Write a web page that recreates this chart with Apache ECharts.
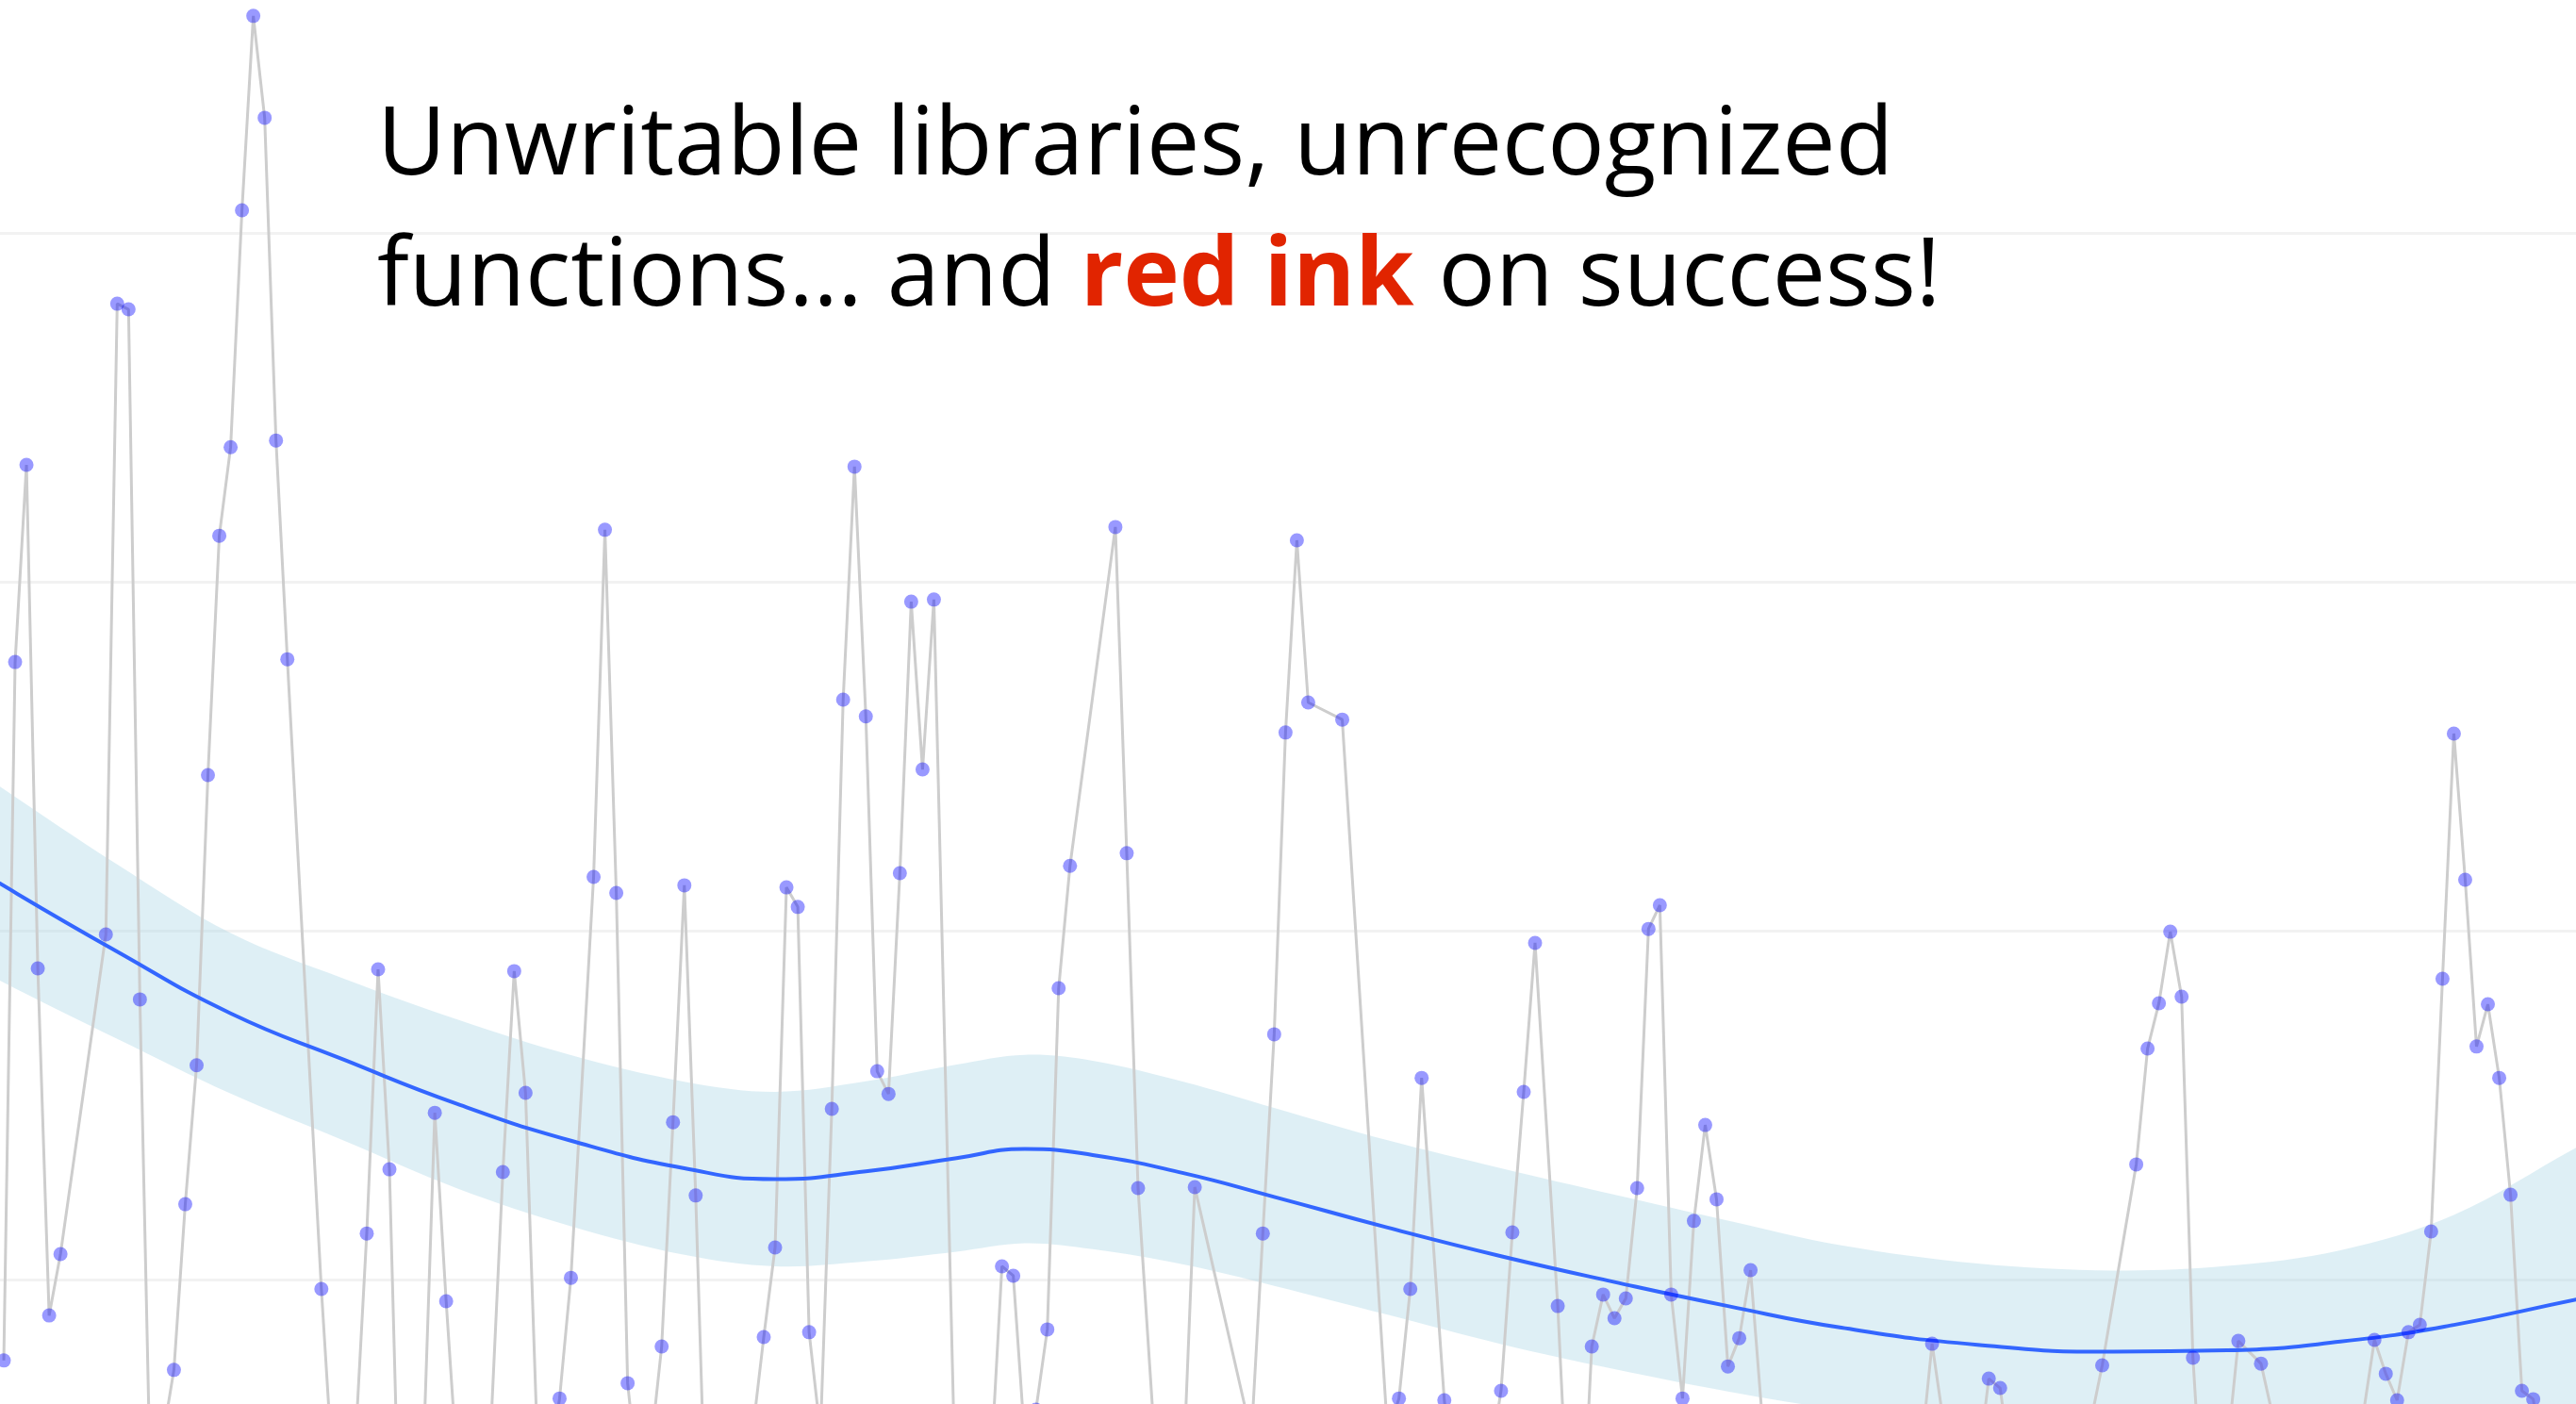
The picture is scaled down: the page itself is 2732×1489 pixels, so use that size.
<!DOCTYPE html>
<html>
<head>
<meta charset="utf-8">
<script src="https://cdn.jsdelivr.net/npm/echarts@6/dist/echarts.min.js"></script>
<style>
html,body{margin:0;padding:0;background:#ffffff;overflow:hidden;width:2732px;height:1489px;}
#wrap{position:relative;width:2732px;height:1489px;overflow:hidden;}
#chart{position:absolute;left:0;top:-123px;width:2732px;height:1850px;}
</style>
</head>
<body>
<div id="wrap"><div id="chart"></div></div>
<script>
// ---- data (x = observation index, y = value) ----
const pointIndex = [0,1,2,3,4,5,9,10,11,12,13,14,15,16,17,18,19,20,21,22,23,24,25,28,29,30,31,32,33,34,35,36,37,38,39,40,41,42,43,44,45,46,47,48,49,50,52,53,54,55,56,57,58,59,60,61,62,63,64,65,66,67,68,69,70,71,72,73,74,75,76,77,78,79,80,81,82,84,85,86,87,88,89,90,91,92,93,94,98,99,100,102,103,104,105,110,111,112,113,114,115,118,122,123,124,125,127,128,129,130,131,132,133,134,135,137,138,139,140,141,142,143,144,145,146,147,148,149,150,151,152,153,154,155,160,165,169,170,171,173,174,175,176,177,180,184,185,188,189,190,191,192,193,194,195,196,197,199,200,204,208,209,210,211,212,213,214,215,216,217,218,219,220,221,222,223,224,226];
const pointValue = [7.68,27.70,33.35,18.92,8.97,10.73,19.89,37.97,37.81,18.03,2.97,5.43,7.41,12.16,16.14,24.46,31.32,33.86,40.65,46.22,43.30,34.05,27.78,9.73,4.51,3.43,5.32,11.32,18.89,13.16,1.0,2.08,5.05,14.78,9.38,4.51,2.89,3.97,6.14,13.08,18.84,15.35,5.73,4.51,6.59,10.05,21.54,31.49,21.08,7.03,3.97,5.05,8.08,14.51,21.30,12.41,1.81,2.89,2.35,3.43,5.57,8.35,10.92,21.24,20.68,8.49,5.59,14.89,26.62,33.30,26.14,15.97,15.32,21.65,29.43,24.62,29.49,2.62,1.81,3.43,4.49,10.38,10.11,5.46,6.27,8.57,18.35,21.86,31.57,22.22,12.62,2.70,3.43,4.57,12.65,5.54,11.32,17.03,25.68,31.19,26.54,26.05,5.59,6.59,9.73,15.78,6.54,3.43,2.08,2.89,4.78,6.81,11.35,15.38,19.65,9.24,2.49,1.57,8.08,9.57,8.89,9.46,12.62,20.05,20.73,9.57,6.59,11.68,14.43,12.30,7.51,8.32,10.27,6.14,3.0,3.2,4.95,8.16,5.92,2.9,4.51,7.16,6.89,4.51,2.1,5.95,7.54,13.30,16.62,17.92,19.97,18.11,7.76,2.46,3.43,5.03,8.24,7.59,6.14,2.35,6.11,8.27,7.30,6.54,8.49,8.70,11.38,18.62,25.65,21.46,16.68,17.89,15.78,12.43,6.81,6.57,4.51,3.4];

// smoothed trend (loess-like fit) and its confidence band, read at knots
const trendIndex = [-5,-0.33,10,20,30,40,50,60,68,76,84,90,96,104,112,122,132,142,152,162,174,186,196,206,216,226.8,232];
const trendValue = [22.30,21.35,19.40,17.63,16.30,15.03,13.98,13.19,12.88,13.10,13.48,13.74,13.57,13.05,12.37,11.49,10.67,9.93,9.24,8.62,8.13,7.93,7.97,8.22,8.70,9.43,9.75];
const bandUpper  = [25.20,24.13,21.90,19.93,18.62,17.45,16.43,15.67,15.38,15.68,16.16,16.44,16.27,15.67,14.92,13.99,13.19,12.43,11.69,10.98,10.46,10.26,10.39,10.84,11.85,13.78,14.65];
const bandLower  = [19.40,18.57,16.90,15.33,13.98,12.61,11.53,10.71,10.38,10.52,10.80,11.04,10.87,10.43,9.82,8.99,8.15,7.43,6.79,6.26,5.80,5.60,5.55,5.60,5.55,5.08,4.85];

const yTickValues = [0,10,20,30,40,50];

const titleLine1 = 'Unwritable libraries, unrecognized';
const titleLine2Start = 'functions\u2026 and ';
const titleRed = 'red ink';
const titleLine2End = ' on success!';

// ---- build ----
const points = pointIndex.map((x, k) => [x, pointValue[k]]);
const trend = trendIndex.map((x, k) => [x, trendValue[k]]);

const chart = echarts.init(document.getElementById('chart'), null, {renderer: 'canvas', width: 2732, height: 1850});

const option = {
  animation: false,
  backgroundColor: '#ffffff',
  title: {
    text: '{a|' + titleLine1 + '}\n{a|' + titleLine2Start + '}{r|' + titleRed + '}{a|' + titleLine2End + '}',
    left: 400,
    top: 210,
    padding: 0,
    textStyle: {
      fontWeight: 'normal',
      rich: {
        a: {fontFamily: 'Open Sans', fontWeight: 'normal', fontSize: 100.5, color: '#000000', lineHeight: 139},
        r: {fontFamily: 'Open Sans', fontWeight: 'bold', fontSize: 100.5, color: '#e12400', lineHeight: 139}
      }
    }
  },
  grid: {left: 0, right: 0, top: 0, bottom: 0},
  xAxis: {
    type: 'value', min: -0.3325, max: 226.77,
    axisLine: {show: false}, axisTick: {show: false}, axisLabel: {show: false},
    splitLine: {show: false}
  },
  yAxis: {
    type: 'value', min: yTickValues[0], max: yTickValues[yTickValues.length - 1], interval: 10,
    axisLine: {show: false}, axisTick: {show: false}, axisLabel: {show: false},
    splitLine: {show: true, lineStyle: {color: '#f2f2f2', width: 3}}
  },
  series: [
    {
      type: 'line', data: points, showSymbol: false, symbol: 'none',
      lineStyle: {color: '#cdcdcd', width: 3}, z: 2
    },
    {
      type: 'scatter', data: points, symbol: 'circle', symbolSize: 15,
      itemStyle: {color: 'rgba(0,0,255,0.5)', borderWidth: 0}, z: 2
    },
    {
      type: 'custom',
      data: [[trendIndex[0], bandLower[0]]],
      clip: false,
      z: 2,
      renderItem: function (params, api) {
        const pts = [];
        for (let k = 0; k < trendIndex.length; k++) pts.push(api.coord([trendIndex[k], bandUpper[k]]));
        for (let k = trendIndex.length - 1; k >= 0; k--) pts.push(api.coord([trendIndex[k], bandLower[k]]));
        return {
          type: 'polygon',
          shape: {points: pts, smooth: 0.35},
          style: {fill: 'rgba(173,216,230,0.4)', stroke: null}
        };
      }
    },
    {
      type: 'line', data: trend, smooth: true, symbol: 'none',
      lineStyle: {color: '#3366ff', width: 4}, z: 2
    }
  ]
};
chart.setOption(option);
</script>
</body>
</html>
